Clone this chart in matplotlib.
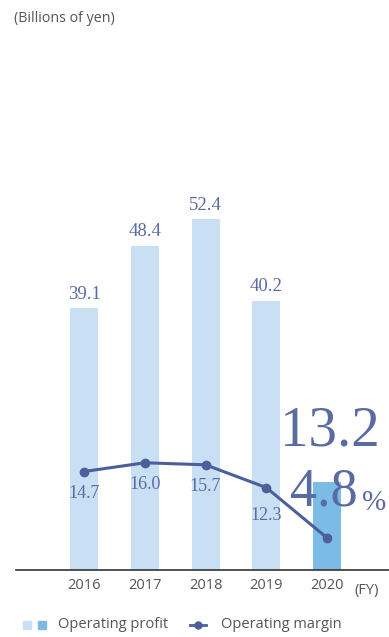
import matplotlib.pyplot as plt
from matplotlib.patches import Rectangle
from matplotlib.lines import Line2D

years = ["2016", "2017", "2018", "2019", "2020"]
profit = [39.1, 48.4, 52.4, 40.2, 13.2]
margin = [14.7, 16.0, 15.7, 12.3, 4.8]

light = "#c9dff3"
dark = "#7dbbe7"
navy = "#4b5f9d"
label_col = "#5a6aa3"
gray = "#555555"

W, H = 389, 637
fig = plt.figure(figsize=(W / 100, H / 100), dpi=100)
ax = fig.add_axes([16 / W, 1 - 570 / H, 373 / W, 530 / H])

x = list(range(len(years)))
colors = [light] * 4 + [dark]
ax.bar(x, profit, width=0.46, color=colors, zorder=1)
ax.plot(x, margin, color=navy, lw=2.2, marker="o", ms=6, zorder=3)

ax.set_xlim(-1.12, 5.02)
ax.set_ylim(0, 79.1)

serif = "Liberation Serif"
for i in range(4):
    ax.text(i, profit[i] + 0.8, f"{profit[i]:.1f}", ha="center", va="bottom",
            fontsize=13.5, family=serif, color=label_col)

# margin labels below points
offs = [-2.0, -2.0, -2.0, -2.9]
for i in range(4):
    ax.text(i, margin[i] + offs[i], f"{margin[i]:.1f}", ha="center", va="top",
            fontsize=13, family=serif, color=label_col)

# 2020 highlight
ax.text(4.05, 16.8, f"{profit[4]:.1f}", ha="center", va="bottom",
        fontsize=41, family=serif, color=label_col, zorder=4)
ax.text(3.39, 7.9, f"{margin[4]:.1f}", ha="left", va="bottom",
        fontsize=39, family=serif, color=label_col, zorder=4)
ax.text(4.58, 8.1, "%", ha="left", va="bottom",
        fontsize=21, family=serif, color=label_col, zorder=4)

for s in ["top", "right", "left"]:
    ax.spines[s].set_visible(False)
ax.spines["bottom"].set_color("#333333")
ax.spines["bottom"].set_linewidth(1.2)
ax.set_yticks([])
ax.set_xticks(x)
ax.set_xticklabels(years, fontsize=10.5, color=gray, family="Open Sans")
ax.tick_params(axis="x", length=0, pad=6)
ax.text(4.45, -1.9, "(FY)", ha="left", va="top", fontsize=10.5, color=gray,
        family="Open Sans")

fig.text(14 / W, 1 - 18 / H, "(Billions of yen)", ha="left", va="center",
         fontsize=10.3, color=gray, family="Open Sans")

# legend
fig.patches.append(Rectangle((23 / W, 1 - 629 / H), 8 / W, 8 / H,
                             transform=fig.transFigure, color=light))
fig.patches.append(Rectangle((38 / W, 1 - 629 / H), 8 / W, 8 / H,
                             transform=fig.transFigure, color=dark))
fig.text(58 / W, 1 - 625 / H, "Operating profit", ha="left", va="center",
         fontsize=10.5, color=gray, family="Open Sans")
fig.lines.append(Line2D([190 / W, 206 / W], [1 - 625 / H, 1 - 625 / H],
                        transform=fig.transFigure, color=navy, lw=2))
fig.lines.append(Line2D([198 / W], [1 - 625 / H], transform=fig.transFigure,
                        color=navy, marker="o", ms=5))
fig.text(221 / W, 1 - 625 / H, "Operating margin", ha="left", va="center",
         fontsize=10.5, color=gray, family="Open Sans")

fig.savefig("out.png", dpi=100)
